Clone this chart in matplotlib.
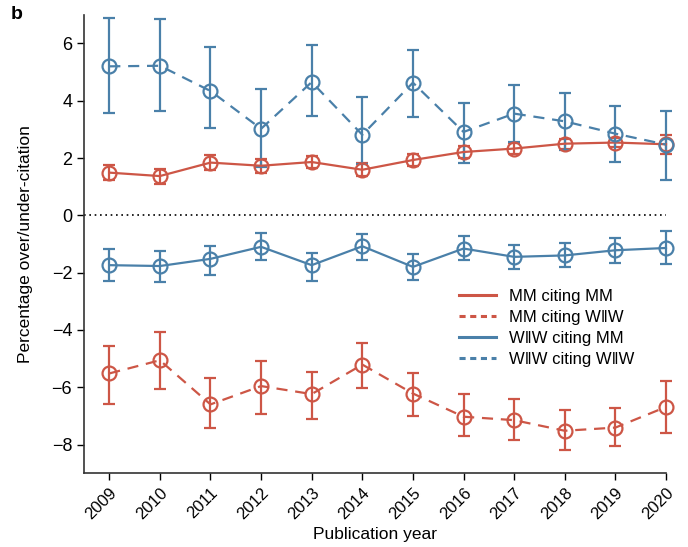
import matplotlib.pyplot as plt
from matplotlib.lines import Line2D
import numpy as np

plt.rcParams['font.family'] = ['Liberation Sans', 'DejaVu Sans']

years = list(range(2009, 2021))

# MM citing MM (red, solid)
mm_mm = [1.49, 1.37, 1.84, 1.73, 1.86, 1.59, 1.93, 2.21, 2.33, 2.50, 2.54, 2.48]
mm_mm_err = [0.27, 0.26, 0.25, 0.25, 0.22, 0.22, 0.22, 0.20, 0.20, 0.17, 0.17, 0.33]

# MM citing W||W (red, dashed)
mm_ww = [-5.52, -5.06, -6.60, -5.96, -6.24, -5.21, -6.22, -7.03, -7.15, -7.52, -7.41, -6.69]
mm_ww_lo = [-6.60, -6.07, -7.43, -6.92, -7.10, -6.02, -7.00, -7.71, -7.86, -8.20, -8.05, -7.61]
mm_ww_hi = [-4.57, -4.07, -5.69, -5.09, -5.47, -4.44, -5.50, -6.22, -6.42, -6.81, -6.72, -5.79]

# W||W citing MM (blue, solid)
ww_mm = [-1.74, -1.77, -1.52, -1.10, -1.74, -1.08, -1.80, -1.16, -1.45, -1.40, -1.22, -1.14]
ww_mm_lo = [-2.30, -2.32, -2.09, -1.57, -2.30, -1.57, -2.27, -1.57, -1.86, -1.80, -1.66, -1.69]
ww_mm_hi = [-1.19, -1.25, -1.08, -0.60, -1.30, -0.64, -1.34, -0.73, -1.02, -0.97, -0.80, -0.56]

# W||W citing W||W (blue, dashed)
ww_ww = [5.20, 5.22, 4.34, 3.02, 4.65, 2.81, 4.63, 2.91, 3.55, 3.28, 2.85, 2.47]
ww_ww_lo = [3.57, 3.65, 3.06, 1.69, 3.46, 1.80, 3.44, 1.83, 2.56, 2.27, 1.86, 1.22]
ww_ww_hi = [6.90, 6.86, 5.88, 4.41, 5.94, 4.13, 5.78, 3.91, 4.55, 4.28, 3.80, 3.64]

labels = ['MM citing MM', 'MM citing W\u2016W', 'W\u2016W citing MM', 'W\u2016W citing W\u2016W']

red = '#cd5646'
blue = '#4a80a9'

fig = plt.figure(figsize=(6.88, 5.47), dpi=100)
ax = fig.add_axes([0.122, 0.135, 0.846, 0.838])

# dotted zero line from the spine to the last year
ax.plot([2008.5, 2020], [0, 0], color='black', lw=1.2, ls=(0, (1, 2.2)), zorder=1)


def draw(vals, lo, hi, color, dashed):
    vals = np.array(vals)
    err = [vals - np.array(lo), np.array(hi) - vals]
    ls = (0, (5, 3.5)) if dashed else '-'
    cont = ax.errorbar(years, vals, yerr=err, color=color, lw=1.6, ls=ls,
                       marker='o', markersize=10, markerfacecolor='none',
                       markeredgewidth=1.6, capsize=4, elinewidth=1.6,
                       capthick=1.6)
    # let the 2020 markers spill over the axes edge like the original
    for art in cont.get_children():
        art.set_clip_on(False)


draw(mm_mm, np.array(mm_mm) - mm_mm_err, np.array(mm_mm) + mm_mm_err, red, False)
draw(mm_ww, mm_ww_lo, mm_ww_hi, red, True)
draw(ww_mm, ww_mm_lo, ww_mm_hi, blue, False)
draw(ww_ww, ww_ww_lo, ww_ww_hi, blue, True)

ax.set_xlim(2008.5, 2020)
ax.set_ylim(-9, 7)
ax.set_xticks(years)
ax.set_xticklabels([str(y) for y in years], rotation=45, ha='right',
                   rotation_mode='anchor', fontsize=12)
ax.set_yticks([-8, -6, -4, -2, 0, 2, 4, 6])
ax.set_yticklabels(['\u22128', '\u22126', '\u22124', '\u22122', '0', '2', '4', '6'],
                   fontsize=13)
ax.tick_params(direction='out', length=5, width=1)
for s in ['top', 'right']:
    ax.spines[s].set_visible(False)
for s in ['left', 'bottom']:
    ax.spines[s].set_linewidth(1.2)
    ax.spines[s].set_color('#333333')

ax.set_xlabel('Publication year', fontsize=12.5)
ax.set_ylabel('Percentage over/under-citation', fontsize=12.5, labelpad=13)

leg_handles = [Line2D([], [], color=red, lw=2.2),
               Line2D([], [], color=red, lw=2.2, ls=(0, (2, 1.5))),
               Line2D([], [], color=blue, lw=2.2),
               Line2D([], [], color=blue, lw=2.2, ls=(0, (2, 1.5)))]
ax.legend(leg_handles, labels, loc='upper left', bbox_to_anchor=(0.619, 0.434),
          frameon=False, fontsize=12, handlelength=2.2, labelspacing=0.35)

fig.text(0.015, 0.965, 'b', fontsize=14, fontweight='bold')

fig.savefig('out.png', dpi=100)
